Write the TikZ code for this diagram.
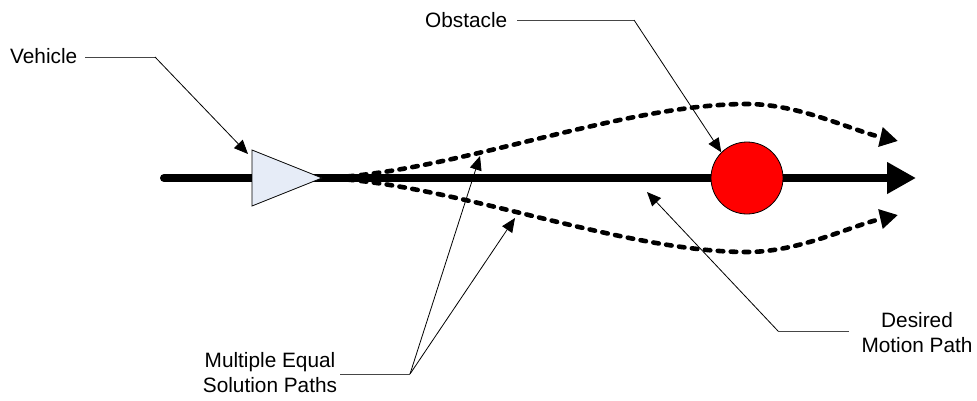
\documentclass[tikz,border=0pt]{standalone}
\usepackage{fontspec}
\setmainfont{Liberation Sans}
\usetikzlibrary{arrows.meta}
\definecolor{vehfill}{RGB}{230,236,247}
\definecolor{leadgray}{RGB}{70,70,70}
\tikzset{
  lbl/.style={inner sep=0pt,font=\fontsize{20.8}{25}\selectfont},
  leader/.style={draw=black,line width=0.8pt,-{Triangle[length=14pt,width=12pt]}},
  leaderh/.style={draw=leadgray,line width=0.8pt},
  mainpath/.style={draw=black,line width=8pt,line cap=round,-{Triangle[length=29pt,width=30pt]}},
  altpath/.style={draw=black,line width=4.6pt,line cap=round,dash pattern=on 5.5pt off 7.5pt,-{Triangle[length=18pt,width=19pt]}},
}
\begin{document}
\begin{tikzpicture}[x=1pt,y=-1pt]
\useasboundingbox (0,0) rectangle (977,400);
% main path
\coordinate (mstart) at (164,178);
\coordinate (mend) at (916,178);
\draw[mainpath] (mstart) -- (mend);
% alternative paths
\coordinate (vtip) at (322,178);
\coordinate (upk) at (747,104);
\coordinate (uend) at (898,141);
\coordinate (lpk) at (747,252);
\coordinate (lend) at (898,215);
\draw[altpath] (vtip) .. controls (450,174) and (620,104) .. (upk) .. controls (800,104) and (850,130) .. (uend);
\draw[altpath] (vtip) .. controls (450,182) and (620,252) .. (lpk) .. controls (800,252) and (850,226) .. (lend);
% vehicle
\draw[fill=vehfill,line width=0.8pt,line join=miter] (252,150) coordinate (vA) -- (vtip) -- (252,206) -- cycle;
% obstacle
\node[circle,fill=red,draw=black,line width=0.8pt,minimum size=72pt,inner sep=0pt] (obs) at (747,178) {};
% labels
\node[lbl,anchor=base west] (veh) at (10,63) {Vehicle};
\node[lbl,anchor=base west] (obst) at (425,27) {Obstacle};
\node[lbl,align=center] (multi) at (270,373) {Multiple Equal\\Solution Paths};
\node[lbl,align=center] (desired) at (917,333) {Desired\\Motion Path};
% leaders
\coordinate (vehA) at (85,57);
\coordinate (vehB) at (155,57);
\coordinate (vehT) at (248,154);
\draw[leaderh] (vehA) -- (vehB);
\draw[leader] (vehB) -- (vehT);
\coordinate (obsA) at (517,20);
\coordinate (obsB) at (634,20);
\draw[leaderh] (obsA) -- (obsB);
\draw[leader] (obsB) -- (obs.135);
\coordinate (mulA) at (340,374);
\coordinate (mulB) at (410,374);
\coordinate (mulT1) at (480,156);
\coordinate (mulT2) at (515,218);
\draw[leaderh] (mulA) -- (mulB);
\draw[leader] (mulB) -- (mulT1);
\draw[leader] (mulB) -- (mulT2);
\coordinate (desA) at (849,331);
\coordinate (desB) at (778,331);
\coordinate (desT) at (647,192);
\draw[leaderh] (desA) -- (desB);
\draw[leader] (desB) -- (desT);
\end{tikzpicture}
\end{document}
